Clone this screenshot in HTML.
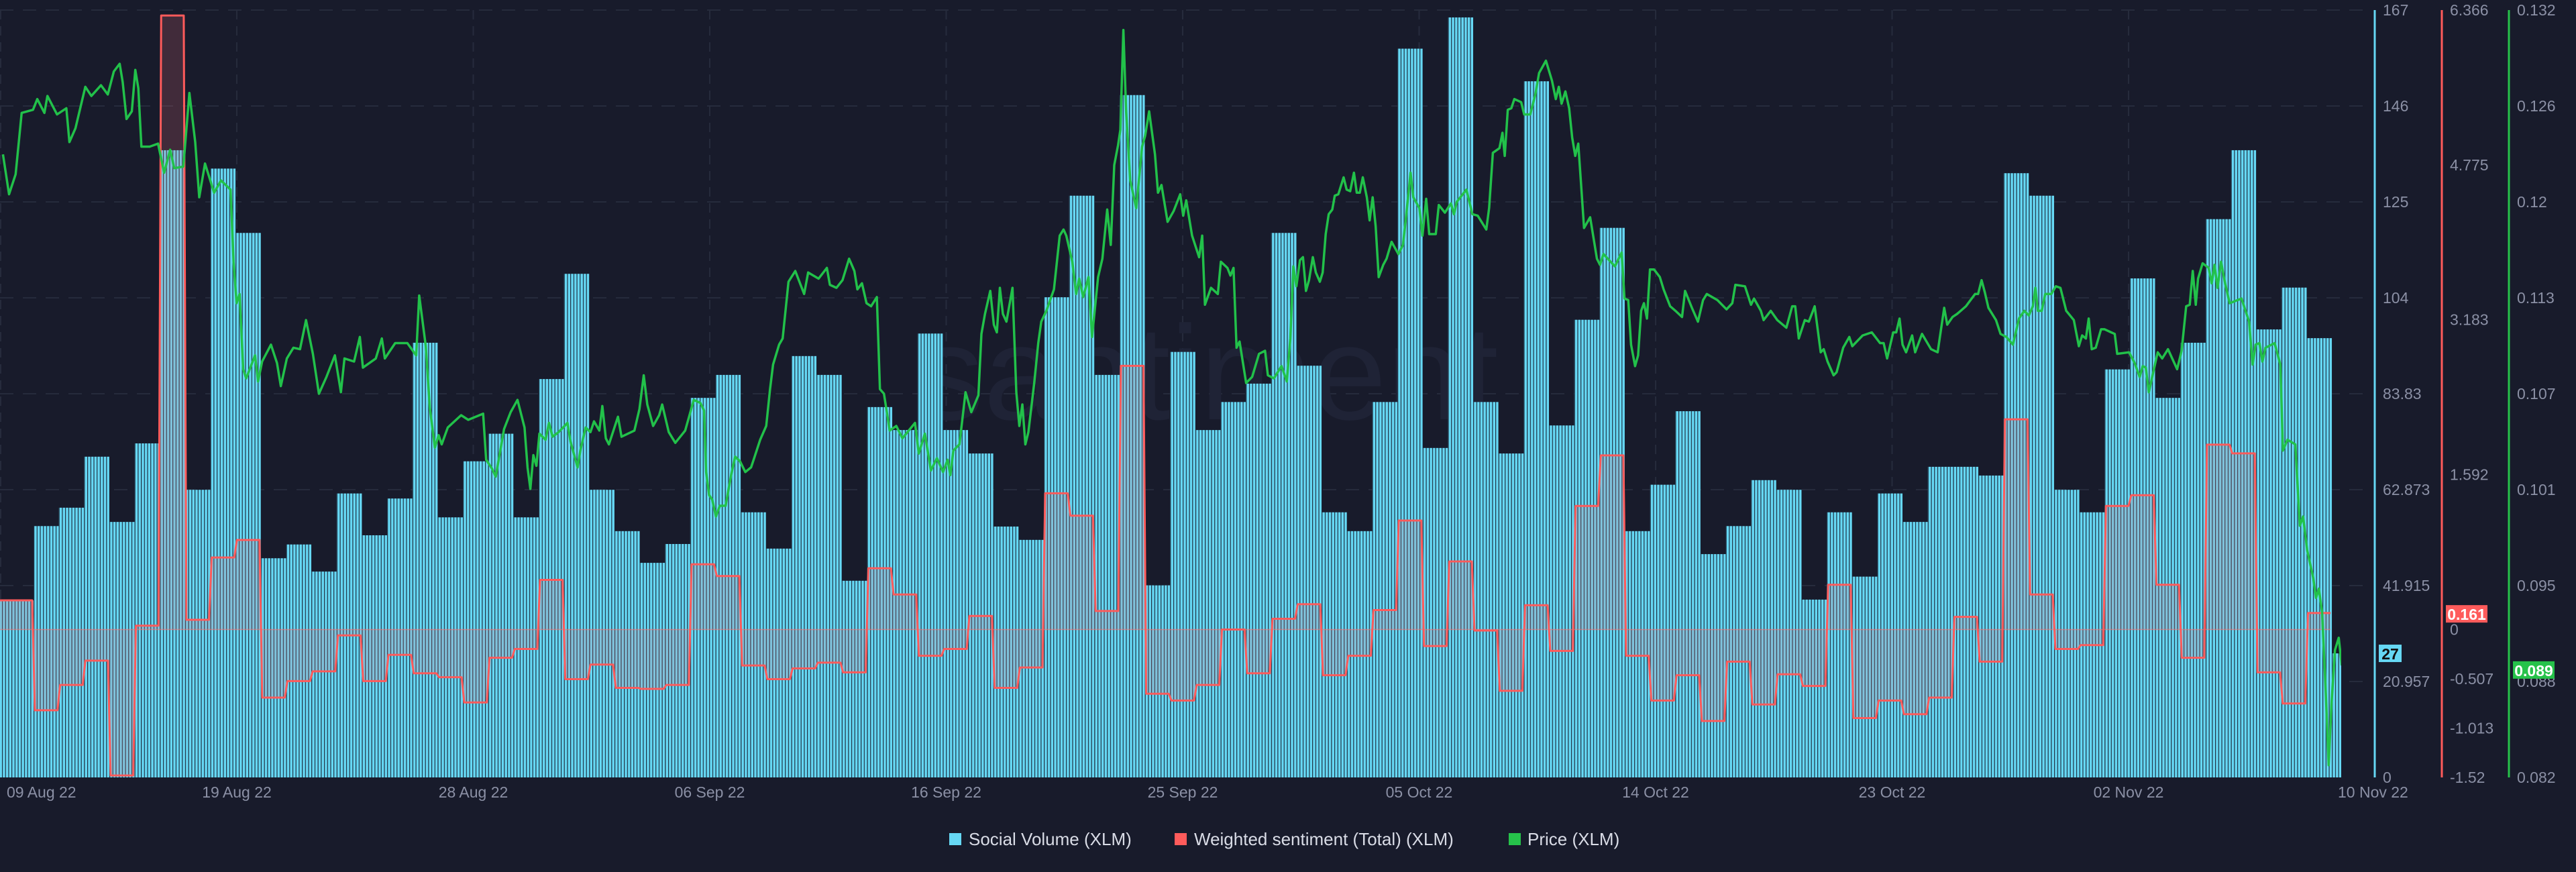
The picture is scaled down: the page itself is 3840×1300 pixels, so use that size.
<!DOCTYPE html>
<html><head><meta charset="utf-8"><title>XLM Social Volume, Sentiment and Price</title>
<style>
html,body{margin:0;padding:0;background:#181b2b;}
svg{display:block;font-family:"Liberation Sans",sans-serif;}
</style></head>
<body>
<svg id="chart" xmlns="http://www.w3.org/2000/svg" width="3840" height="1300" viewBox="0 0 3840 1300">
<defs>
<pattern id="stripes" patternUnits="userSpaceOnUse" x="50" y="0" width="4.70625" height="20">
<rect x="0" y="0" width="4.70625" height="20" fill="#66d8f4"/>
<rect x="0" y="0" width="1.2" height="20" fill="#1f3042"/>
</pattern>
<clipPath id="plotClip"><rect x="0" y="0" width="3490" height="1160"/></clipPath>
</defs>
<rect x="0" y="0" width="3840" height="1300" fill="#181b2b"/>
<g id="grid"></g>
<text x="1800" y="625" text-anchor="middle" font-size="200" fill="#1f2336">santiment</text>
<g id="bars" clip-path="url(#plotClip)"></g>
<g id="sent" clip-path="url(#plotClip)"></g>
<g id="price" clip-path="url(#plotClip)"></g>
<g id="axes"></g>
<g id="legend">
<g>
<rect x="1415" y="1242" width="18" height="18" fill="#66d8f4"/>
<text x="1444" y="1260" font-size="26" fill="#d9dce6">Social Volume (XLM)</text></g>
<g>
<rect x="1751" y="1242" width="18" height="18" fill="#ff5b5b"/>
<text x="1780" y="1260" font-size="26" fill="#d9dce6">Weighted sentiment (Total) (XLM)</text></g>
<g>
<rect x="2249" y="1242" width="18" height="18" fill="#26c24a"/>
<text x="2277" y="1260" font-size="26" fill="#d9dce6">Price (XLM)</text></g>
</g>
</svg>
<script>
// ---- data ----
const volume = [38.5,54.7,58.7,69.8,55.6,72.7,136.5,62.6,132.5,118.5,47.7,50.7,44.8,61.8,52.7,60.7,94.6,56.6,68.8,
74.8,56.6,86.7,109.6,62.6,53.6,46.7,50.8,82.6,87.6,57.7,49.8,91.7,87.6,42.8,80.6,75.6,96.6,
75.6,70.5,54.6,51.7,104.5,126.6,87.6,148.5,41.8,92.6,75.6,81.7,85.7,118.5,89.6,57.7,53.6,81.7,
158.6,71.7,165.4,81.7,70.5,151.5,76.6,99.6,119.6,53.6,63.7,79.7,48.6,54.7,64.7,62.6,38.7,57.7,
43.7,61.8,55.6,67.6,67.6,65.7,131.5,126.6,62.6,57.7,88.8,108.6,82.6,94.6,121.5,136.5,97.5,106.6,95.6,27];
const sentiment = [0.30,-0.83,-0.57,-0.32,-1.50,0.04,6.31,0.10,0.74,0.92,-0.70,-0.53,-0.43,-0.06,-0.53,-0.26,-0.45,-0.49,-0.75,
-0.29,-0.20,0.51,-0.51,-0.36,-0.60,-0.61,-0.57,0.67,0.55,-0.37,-0.51,-0.40,-0.34,-0.44,0.63,0.36,-0.27,
-0.20,0.14,-0.60,-0.39,1.40,1.17,0.19,2.71,-0.66,-0.73,-0.57,0.00,-0.45,0.11,0.26,-0.47,-0.27,0.20,
1.12,-0.17,0.70,-0.01,-0.63,0.25,-0.22,1.27,1.79,-0.27,-0.73,-0.47,-0.94,-0.33,-0.77,-0.46,-0.58,0.46,
-0.91,-0.73,-0.87,-0.70,0.13,-0.33,2.16,0.36,-0.20,-0.16,1.27,1.38,0.46,-0.29,1.90,1.81,-0.44,-0.76,0.17];
const priceDays = [-1.21,-0.97,-0.71,-0.47,-0.02,0.15,0.43,0.55,0.93,1.30,1.42,1.66,2.05,2.29,2.67,2.94,3.18,3.41,3.53,3.68,3.89,4.03,4.15,4.27,4.60,4.93,5.17,5.41,5.57,5.93,6.17,6.40,6.56,6.79,7.15,7.42,7.80,7.92,8.04,8.16,8.30,8.42,8.77,8.89,9.05,9.40,9.64,9.79,10.03,10.29,10.55,10.79,11.06,11.30,11.60,11.93,12.17,12.31,12.69,12.92,13.04,13.55,13.79,13.91,14.32,14.80,15.15,15.27,15.53,15.69,15.89,16.04,16.16,16.40,16.93,
17.21,17.80,17.92,18.16,18.30,18.63,18.89,19.16,19.44,19.56,19.67,19.79,19.91,20.03,20.27,20.41,20.55,20.79,21.14,21.26,21.54,21.65,21.86,22.05,22.19,22.40,22.52,22.66,22.78,23.14,23.28,23.79,23.99,24.16,24.30,24.53,24.77,24.89,25.15,25.41,25.80,26.14,26.40,26.55,26.63,26.75,26.87,27.02,27.17,27.40,27.62,27.78,27.97,28.18,28.41,28.53,28.77,29.01,29.16,29.28,29.52,29.66,29.89,30.16,30.51,30.67,31.08,31.41,31.53,31.79,32.03,32.29,32.50,32.62,32.80,32.98,33.16,33.39,33.51,33.67,33.90,34.16,34.40,34.90,35.05,35.29,
35.53,35.77,36.01,36.19,36.30,36.42,36.66,36.90,37.13,37.41,37.53,37.67,37.88,38.02,38.14,38.26,38.38,38.52,38.76,38.91,39.03,39.15,39.27,39.39,39.62,39.78,39.90,40.10,40.40,40.63,40.78,40.89,41.13,41.28,41.40,41.56,41.77,41.91,42.15,42.32,42.51,42.65,42.79,42.94,43.03,43.15,43.26,43.42,43.66,43.89,44.01,44.17,44.40,44.52,44.66,44.90,45.14,45.40,45.52,45.64,45.87,46.15,46.27,46.38,46.62,46.89,47.01,47.27,47.39,47.51,47.63,47.75,48.01,48.25,48.52,48.76,48.87,49.11,49.41,49.62,49.76,49.88,50.00,50.14,50.26,50.38,50.50,50.65,50.77,50.93,51.04,51.16,51.28,51.42,51.52,51.66,51.87,51.99,52.13,52.28,52.39,52.51,52.63,52.79,52.90,53.02,53.14,53.26,53.44,
53.57,53.77,54.04,54.22,54.34,54.52,54.63,54.87,54.99,55.14,55.26,55.52,55.64,55.88,56.12,56.24,56.35,56.73,56.97,57.18,57.52,57.63,57.78,58.04,58.16,58.25,58.37,58.51,58.63,58.90,59.02,59.26,59.46,59.61,59.88,60.12,60.27,60.39,60.50,60.65,60.80,60.92,61.04,61.16,61.27,61.39,61.63,61.90,62.02,62.16,62.61,62.88,62.99,63.14,63.25,63.41,63.53,63.65,63.76,63.88,64.00,64.16,64.39,64.54,64.80,65.01,65.27,65.39,65.66,65.90,66.10,66.25,66.67,67.03,67.26,67.38,67.76,68.00,68.12,68.39,68.50,68.78,69.04,69.40,69.63,69.75,69.89,70.13,70.29,70.52,70.76,70.88,71.03,71.27,71.39,71.65,
71.89,72.01,72.42,72.78,73.11,73.25,73.39,73.63,73.75,73.88,74.00,74.14,74.38,74.50,74.77,75.13,75.39,75.65,75.77,75.98,76.16,76.51,76.87,76.99,77.13,77.26,77.40,77.70,77.88,78.11,78.37,78.61,78.82,79.00,79.16,79.26,79.36,79.51,79.65,79.89,80.07,80.25,80.48,80.78,80.98,81.11,81.26,81.37,81.49,81.65,81.86,82.00,82.26,82.40,82.50,82.97,83.19,83.39,83.51,83.63,83.75,84.10,84.28,84.51,84.87,85.05,85.23,85.37,85.49,85.61,85.70,85.88,86.12,86.24,86.35,86.47,86.61,86.77,86.95,87.42,87.72,87.86,87.98,88.13,88.25,88.37,88.73,88.96,
89.06,89.24,89.55,89.73,89.86,90.02,90.26,90.37,90.48,90.61,90.76,90.87,90.98,91.12,91.27,91.39];
const priceValues = [.1226,.1200,.1213,.1253,.1255,.1262,.1253,.1264,.1252,.1256,.1234,.1243,.1270,.1264,.1271,.1265,.1280,.1285,.1273,.1249,.1254,.1281,.1269,.1231,.1231,.1233,.1214,.1229,.1217,.1218,.1266,.1234,.1198,.1220,.1201,.1209,.1203,.1156,.1129,.1135,.1086,.1080,.1095,.1078,.1091,.1102,.1090,.1075,.1093,.1100,.1099,.1118,.1096,.1070,.1081,.1095,.1071,.1093,.1091,.1107,.1087,.1093,.1106,.1093,.1103,.1103,.1095,.1134,.1101,.1061,.1035,.1043,.1037,.1048,.1056,
.1053,.1057,.1027,.1021,.1016,.1047,.1058,.1066,.1048,.1022,.1008,.1030,.1023,.1044,.1040,.1051,.1042,.1045,.1051,.1039,.1022,.1033,.1048,.1045,.1052,.1046,.1062,.1041,.1037,.1055,.1042,.1046,.1060,.1082,.1063,.1049,.1056,.1063,.1045,.1038,.1046,.1066,.1064,.1059,.1019,.1004,.1001,.0990,.0997,.0997,.1017,.1029,.1026,.1019,.1022,.1028,.1040,.1049,.1073,.1089,.1102,.1106,.1143,.1150,.1135,.1149,.1145,.1152,.1141,.1139,.1144,.1158,.1150,.1138,.1142,.1129,.1127,.1133,.1073,.1070,.1046,.1049,.1041,.1051,.1031,.1044,
.1020,.1028,.1019,.1027,.1017,.1033,.1037,.1071,.1058,.1069,.1109,.1122,.1137,.1115,.1110,.1139,.1122,.1117,.1139,.1071,.1049,.1063,.1037,.1045,.1077,.1103,.1117,.1124,.1138,.1173,.1177,.1173,.1156,.1135,.1145,.1133,.1146,.1107,.1146,.1158,.1190,.1167,.1219,.1232,.1242,.1307,.1254,.1209,.1191,.1231,.1238,.1254,.1226,.1201,.1206,.1182,.1189,.1200,.1186,.1196,.1173,.1159,.1173,.1128,.1139,.1135,.1156,.1152,.1147,.1152,.1100,.1104,.1077,.1081,.1096,.1098,.1082,.1080,.1088,.1078,.1106,.1153,.1140,.1157,.1159,.1137,.1144,.1159,.1149,.1143,.1149,.1174,.1187,.1190,.1199,.1200,.1211,.1203,.1202,.1214,.1201,.1201,.1211,.1198,.1183,.1198,.1179,.1146,.1154,
.1158,.1169,.1161,.1167,.1185,.1214,.1198,.1191,.1173,.1197,.1174,.1174,.1193,.1188,.1194,.1187,.1195,.1203,.1187,.1186,.1177,.1191,.1227,.1230,.1240,.1225,.1255,.1256,.1262,.1260,.1252,.1252,.1265,.1279,.1287,.1274,.1262,.1270,.1259,.1267,.1256,.1237,.1225,.1233,.1207,.1178,.1185,.1158,.1154,.1161,.1153,.1162,.1132,.1131,.1102,.1088,.1095,.1124,.1129,.1119,.1151,.1151,.1146,.1138,.1127,.1124,.1120,.1137,.1126,.1117,.1131,.1135,.1131,.1125,.1129,.1141,.1140,.1128,.1132,.1124,.1118,.1124,.1118,.1113,.1127,.1127,.1106,.1118,.1117,.1127,.1097,.1099,.1091,.1082,.1084,.1100,
.1107,.1101,.1108,.1110,.1103,.1103,.1093,.1110,.1110,.1119,.1102,.1097,.1108,.1097,.1109,.1099,.1097,.1126,.1115,.1120,.1122,.1127,.1135,.1135,.1144,.1136,.1126,.1118,.1109,.1107,.1102,.1119,.1124,.1121,.1127,.1139,.1124,.1124,.1135,.1135,.1140,.1139,.1124,.1118,.1101,.1108,.1106,.1119,.1099,.1100,.1112,.1112,.1110,.1109,.1096,.1097,.1090,.1081,.1088,.1087,.1071,.1097,.1093,.1099,.1086,.1098,.1127,.1128,.1150,.1128,.1145,.1155,.1152,.1142,.1154,.1139,.1156,.1142,.1129,.1132,.1117,.1089,.1102,.1103,.1091,.1100,.1103,.1089,
.1033,.1040,.1037,.0984,.0990,.0968,.0950,.0937,.0943,.0928,.0874,.0828,.0867,.0903,.0911,.0893];
const volTicks = ["167","146","125","104","83.83","62.873","41.915","20.957","0"];
const sentTicks = [6.366,4.775,3.183,1.592,0,-0.507,-1.013,-1.52];
const priceTicks = ["0.132","0.126","0.12","0.113","0.107","0.101","0.095","0.088","0.082"];
const dateLabels = ["19 Aug 22","28 Aug 22","06 Sep 22","16 Sep 22","25 Sep 22","05 Oct 22","14 Oct 22","23 Oct 22","02 Nov 22"];
const lastVolume = "27", lastSentiment = "0.161", lastPrice = "0.089";

// ---- scales ----
const NS = "http://www.w3.org/2000/svg";
const TOP = 15, BOT = 1159, DAYW = 37.65, X0 = 50;
function xOf(d){ return X0 + d*DAYW; }
function yVol(v){ return BOT - v/167*(BOT-TOP); }
function ySent(s){ return TOP + (6.366 - s)/(6.366+1.52)*(BOT-TOP); }
function yPrice(p){ return TOP + (0.132 - p)/(0.132-0.082)*(BOT-TOP); }
function mk(tag, attrs, parent){ const e=document.createElementNS(NS,tag); for(const k in attrs) e.setAttribute(k,attrs[k]); parent.appendChild(e); return e; }

// grid
const grid = document.getElementById('grid');
for(let k=0;k<8;k++){
  const y = TOP + k*(BOT-TOP)/8;
  const l = mk('line',{x1:0,x2:3530,y1:y,y2:y,stroke:'#262b3c','stroke-width':2,'stroke-dasharray':'20 14'},grid);
  
  
}
for(let j=-1;j<9;j++){
  const x = 353 + j*352.5;
  const l = mk('line',{x1:Math.max(x,1),x2:Math.max(x,1),y1:TOP,y2:BOT,stroke:'#262b3c','stroke-width':2,'stroke-dasharray':'14 10'},grid);
  
  
}

// bars
const bars = document.getElementById('bars');
volume.forEach((v,i)=>{
  const d = i-1;
  const y = yVol(v);
  const x0 = i===0 ? 0 : xOf(d);
  const r = mk('rect',{x:x0,y:y,width:xOf(d+1)-x0,height:BOT-y,fill:'url(#stripes)'},bars);
  
  
});

// sentiment
const sentG = document.getElementById('sent');
const y0 = ySent(0);
let pts = [];
sentiment.forEach((s,i)=>{
  const d = i-1;
  const y = ySent(s);
  pts.push([i===0 ? 0 : xOf(d)+2, y]); pts.push([xOf(d+1)-2, y]);
});
const lastX = pts[pts.length-1][0];
const area = mk('polygon',{points:[[0,y0],...pts,[lastX,y0]].map(p=>p.join(',')).join(' '),fill:'rgba(230,110,120,0.2)'},sentG);


const zl = mk('line',{x1:0,x2:lastX,y1:y0,y2:y0,stroke:'rgba(255,110,110,0.6)','stroke-width':1.5},sentG);


const sl = mk('polyline',{points:pts.map(p=>p.join(',')).join(' '),fill:'none',stroke:'#ff5b5b','stroke-width':3,'stroke-linejoin':'round'},sentG);



// price
const priceG = document.getElementById('price');
const pp = priceDays.map((d,i)=>xOf(d).toFixed(1)+','+yPrice(priceValues[i]).toFixed(1)).join(' ');
const pl = mk('polyline',{points:pp,fill:'none',stroke:'#22c14a','stroke-width':3.5,'stroke-linejoin':'round'},priceG);



// axes
const axes = document.getElementById('axes');
const axisDefs = [[3540,'#66d8f4','volume-axis'],[3640,'#ff5b5b','sentiment-axis'],[3740,'#26c24a','price-axis']];
axisDefs.forEach(a=>{
  const l = mk('line',{x1:a[0],x2:a[0],y1:TOP,y2:BOT,stroke:a[1],'stroke-width':3},axes);
  
  
});
function label(x,y,txt,name,anchor){
  const t = mk('text',{x:x,y:y,'font-size':23,fill:'#8b90a5','dominant-baseline':'central','text-anchor':anchor||'start'},axes);
  t.textContent = txt;
  
  
}
volTicks.forEach((t,k)=>label(3552, TOP + k*(BOT-TOP)/8, t, 'volume-tick-label'));
sentTicks.forEach(s=>label(3652, ySent(s), String(s), 'sentiment-tick-label'));
priceTicks.forEach((t,k)=>label(3752, TOP + k*(BOT-TOP)/8, t, 'price-tick-label'));
label(10, 1181, "09 Aug 22", 'x-tick-label');
dateLabels.forEach((t,j)=>label(353 + j*352.5, 1181, t, 'x-tick-label', 'middle'));
label(3485, 1181, "10 Nov 22", 'x-tick-label');

function badge(x,yc,w,fill,txt,color,name){
  const g = mk('g',{},axes);
  
  
  mk('rect',{x:x,y:yc-13,width:w,height:26,fill:fill},g);
  const t = mk('text',{x:x+w/2,y:yc+1,'font-size':23,'font-weight':'bold',fill:color,'text-anchor':'middle','dominant-baseline':'central'},g);
  t.textContent = txt;
}
badge(3546, yVol(+lastVolume), 34, '#66d8f4', lastVolume, '#111', 'last-volume-badge');
badge(3646, ySent(+lastSentiment), 62, '#ff5b5b', lastSentiment, '#fff', 'last-sentiment-badge');
badge(3746, yPrice(+lastPrice), 62, '#26c24a', lastPrice, '#fff', 'last-price-badge');
</script>
</body></html>
